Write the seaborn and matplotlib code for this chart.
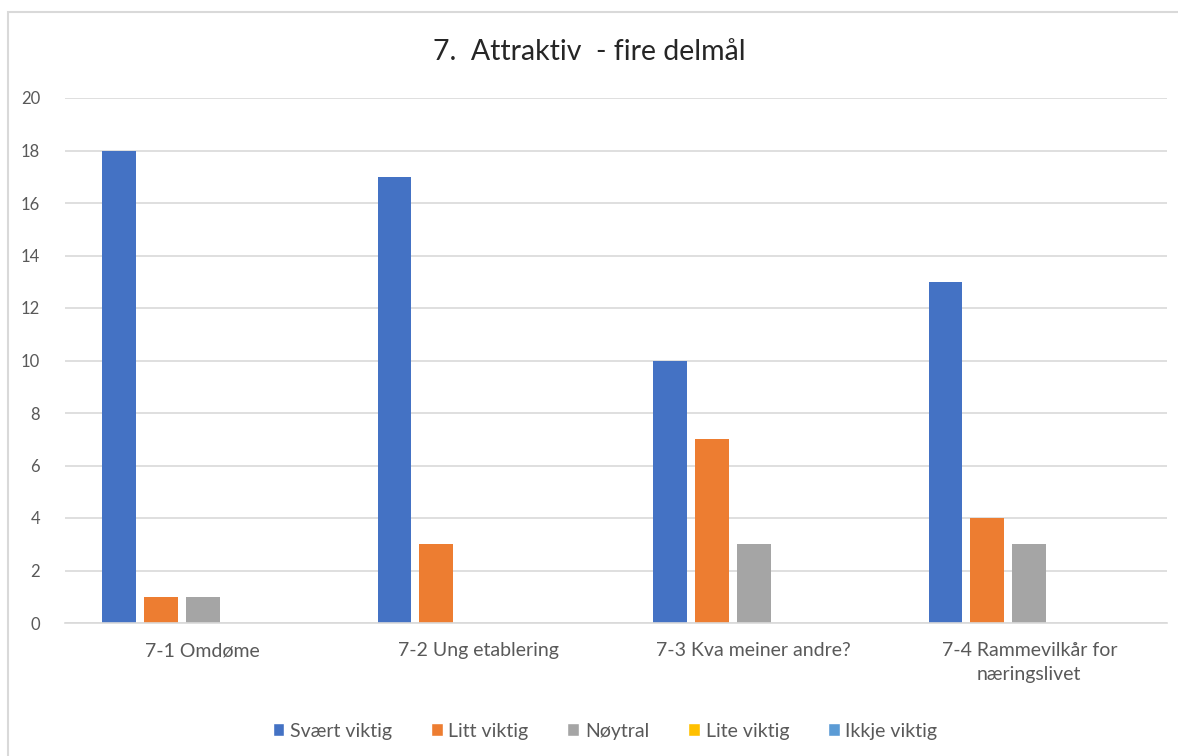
import pandas as pd
import numpy as np
import matplotlib.pyplot as plt
import seaborn as sns
from matplotlib.patches import Rectangle, Patch

# Data
categories = ['7-1 Omdøme', '7-2 Ung etablering', '7-3 Kva meiner andre?',
              '7-4 Rammevilkår for\nnæringslivet']
series_names = ['Svært viktig', 'Litt viktig', 'Nøytral', 'Lite viktig', 'Ikkje viktig']
svaert_viktig = [18, 17, 10, 13]
litt_viktig = [1, 3, 7, 4]
noytral = [1, 0, 3, 3]
lite_viktig = [0, 0, 0, 0]
ikkje_viktig = [0, 0, 0, 0]
colors = ['#4472C4', '#ED7D31', '#A5A5A5', '#FFC000', '#5B9BD5']

values = [svaert_viktig, litt_viktig, noytral, lite_viktig, ikkje_viktig]
df = pd.DataFrame({
    'kategori': categories * len(series_names),
    'serie': np.repeat(series_names, len(categories)),
    'antall': np.concatenate(values),
})

sns.set_style('white')
plt.rcParams['font.family'] = ['Lato', 'DejaVu Sans']
text_col = '#595959'

fig = plt.figure(figsize=(11.78, 7.56), dpi=100)
ax = fig.add_axes([65 / 1178, 1 - 623 / 756, (1167 - 65) / 1178, (623 - 98) / 756])

sns.barplot(data=df, x='kategori', y='antall', hue='serie', palette=colors,
            saturation=1, width=0.76, gap=0.19, ax=ax, legend=False,
            linewidth=0, errorbar=None)

ax.set_ylim(0, 20)
ax.set_yticks(range(0, 21, 2))
ax.set_xlim(-0.5, len(categories) - 0.5)
ax.yaxis.grid(True, color='#D9D9D9', linewidth=1.2)
ax.set_axisbelow(True)
for side in ['left', 'right', 'top']:
    ax.spines[side].set_visible(False)
ax.spines['bottom'].set_color('#D9D9D9')
ax.spines['bottom'].set_linewidth(1.2)
ax.tick_params(axis='y', length=0, pad=18, labelsize=12, labelcolor=text_col)
ax.tick_params(axis='x', length=0, pad=14, labelsize=14, labelcolor=text_col)
for lbl in ax.get_xticklabels():
    lbl.set_linespacing(1.5)
ax.set_xlabel('')
ax.set_ylabel('')

fig.text(0.5, 1 - 52 / 756, '7.  Attraktiv  - fire delmål', ha='center', va='center',
         fontsize=20.5, color='#262626')

handles = [Patch(facecolor=c, label=n) for c, n in zip(colors, series_names)]
fig.legend(handles=handles, loc='center', bbox_to_anchor=(605 / 1178, 1 - 731 / 756),
           ncol=5, frameon=False, fontsize=14, handlelength=0.6, handleheight=0.6,
           handletextpad=0.3, columnspacing=2.0, labelcolor=text_col)

# chart border
fig.patches.append(Rectangle((8 / 1178, -0.1), 1.2, 1 - 12 / 756 + 0.1,
                             transform=fig.transFigure, fill=False,
                             edgecolor='#D9D9D9', linewidth=1.5))

fig.savefig('out.png', dpi=100)
